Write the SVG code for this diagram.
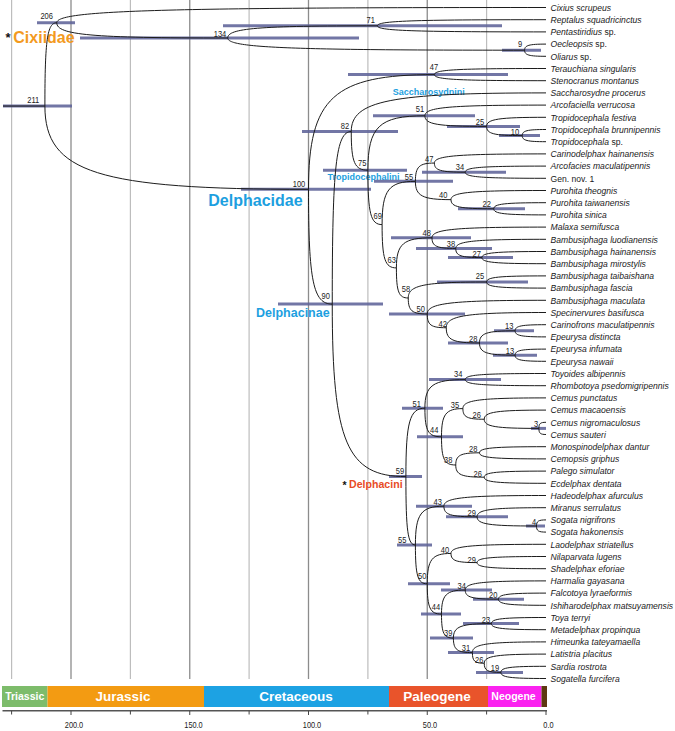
<svg xmlns="http://www.w3.org/2000/svg" width="675" height="731" viewBox="0 0 675 731">
<style>
.br{fill:none;stroke:#1c1c1c;stroke-width:1}
.hpd{stroke:#5f6399;stroke-width:3;stroke-opacity:0.88}
.nl{font-family:"Liberation Sans",Arial,sans-serif;font-size:9.2px;fill:#222;text-anchor:middle}
.tl{font-family:"Liberation Sans",Arial,sans-serif;font-size:9.3px;font-style:italic;fill:#1a1a1a}
.rm{font-style:normal}
.g1{stroke:#8c8c8c;stroke-width:1.3}
.g2{stroke:#bdbdbd;stroke-width:1.2}
.cl{font-family:"Liberation Sans",Arial,sans-serif;font-weight:bold}
.era{font-family:"Liberation Sans",Arial,sans-serif;font-weight:bold;fill:#fff;text-anchor:middle}
.ax{font-family:"Liberation Sans",Arial,sans-serif;font-size:9px;fill:#222;text-anchor:middle}
.tk{stroke:#444;stroke-width:1}
</style>
<rect width="675" height="731" fill="#fff"/>
<g id="grid">
<line class="g2" x1="11.6" y1="0" x2="11.6" y2="679"/>
<line class="g1" x1="71" y1="0" x2="71" y2="679"/>
<line class="g2" x1="130.4" y1="0" x2="130.4" y2="679"/>
<line class="g1" x1="189.75" y1="0" x2="189.75" y2="679"/>
<line class="g2" x1="249.1" y1="0" x2="249.1" y2="679"/>
<line class="g1" x1="308.5" y1="0" x2="308.5" y2="679"/>
<line class="g2" x1="367.9" y1="0" x2="367.9" y2="679"/>
<line class="g1" x1="427.25" y1="0" x2="427.25" y2="679"/>
<line class="g2" x1="486.6" y1="0" x2="486.6" y2="679"/>
</g>
<g id="clade-labels">
<text class="cl" x="5.5" y="42" font-size="13" fill="#111">*</text>
<text class="cl" x="13.3" y="42.7" font-size="16" fill="#f39a1e">Cixiidae</text>
<text class="cl" x="208.3" y="205.5" font-size="16" fill="#1d9fe0">Delphacidae</text>
<text class="cl" x="256" y="316.7" font-size="12.5" fill="#1d9fe0">Delphacinae</text>
<text class="cl" x="327.5" y="180" font-size="9" fill="#1d9fe0">Tropidocephalini</text>
<text class="cl" x="392.7" y="94.5" font-size="9" fill="#1d9fe0">Saccharosydnini</text>
<text class="cl" x="342.5" y="489" font-size="10.5" fill="#111">*</text>
<text class="cl" x="349" y="488" font-size="10.6" fill="#e84b26">Delphacini</text>
</g>
<g id="nodes">
<g id="node-211"><line class="hpd" x1="3" y1="106.05" x2="72" y2="106.05"/><text class="nl" transform="translate(33.3 103.3) scale(0.82 1)">211</text></g>
<g id="node-206"><line class="hpd" x1="37" y1="22.75" x2="75" y2="22.75"/><text class="nl" transform="translate(46.7 19.3) scale(0.82 1)">206</text></g>
<g id="node-134"><line class="hpd" x1="80" y1="38" x2="359" y2="38"/><text class="nl" transform="translate(220 36.6) scale(0.82 1)">134</text></g>
<g id="node-71"><line class="hpd" x1="223" y1="25.8" x2="502" y2="25.8"/><text class="nl" transform="translate(370.7 23.3) scale(0.82 1)">71</text></g>
<g id="node-9"><line class="hpd" x1="502" y1="50.2" x2="541" y2="50.2"/><text class="nl" transform="translate(520 47.3) scale(0.82 1)">9</text></g>
<g id="node-100"><line class="hpd" x1="241" y1="189.35" x2="371" y2="189.35"/><text class="nl" transform="translate(299 187.3) scale(0.82 1)">100</text></g>
<g id="node-47-stenocranus"><line class="hpd" x1="348" y1="74.6" x2="508" y2="74.6"/><text class="nl" transform="translate(434 70) scale(0.82 1)">47</text></g>
<g id="node-90"><line class="hpd" x1="278" y1="304.1" x2="383" y2="304.1"/><text class="nl" transform="translate(325.7 299) scale(0.82 1)">90</text></g>
<g id="node-82"><line class="hpd" x1="302" y1="131.55" x2="398" y2="131.55"/><text class="nl" transform="translate(345 128.8) scale(0.82 1)">82</text></g>
<g id="node-75"><line class="hpd" x1="323" y1="170.2" x2="407" y2="170.2"/><text class="nl" transform="translate(362.3 165.6) scale(0.82 1)">75</text></g>
<g id="node-51-tropidocephala"><line class="hpd" x1="373" y1="115.8" x2="475" y2="115.8"/><text class="nl" transform="translate(420 111.6) scale(0.82 1)">51</text></g>
<g id="node-25-tropidocephala"><line class="hpd" x1="447" y1="126.4" x2="520" y2="126.4"/><text class="nl" transform="translate(480 125.3) scale(0.82 1)">25</text></g>
<g id="node-10"><line class="hpd" x1="499" y1="135.6" x2="540" y2="135.6"/><text class="nl" transform="translate(515 135) scale(0.82 1)">10</text></g>
<g id="node-69"><text class="nl" transform="translate(377.7 219.3) scale(0.82 1)">69</text></g>
<g id="node-55-tropidocephalini"><line class="hpd" x1="374" y1="181.35" x2="453" y2="181.35"/><text class="nl" transform="translate(409 180) scale(0.82 1)">55</text></g>
<g id="node-47-carinodelphax"><text class="nl" transform="translate(429.3 161.6) scale(0.82 1)">47</text></g>
<g id="node-34-arcofacies"><line class="hpd" x1="422" y1="172.2" x2="506" y2="172.2"/><text class="nl" transform="translate(460 170) scale(0.82 1)">34</text></g>
<g id="node-40-purohita"><text class="nl" transform="translate(443.3 198.3) scale(0.82 1)">40</text></g>
<g id="node-22"><line class="hpd" x1="458" y1="208.8" x2="525" y2="208.8"/><text class="nl" transform="translate(486.7 206.6) scale(0.82 1)">22</text></g>
<g id="node-63"><text class="nl" transform="translate(391.7 263.3) scale(0.82 1)">63</text></g>
<g id="node-48"><line class="hpd" x1="391" y1="237.8" x2="471" y2="237.8"/><text class="nl" transform="translate(426.7 235.6) scale(0.82 1)">48</text></g>
<g id="node-38-bambusiphaga"><line class="hpd" x1="416" y1="248.45" x2="492" y2="248.45"/><text class="nl" transform="translate(451 247.3) scale(0.82 1)">38</text></g>
<g id="node-27"><line class="hpd" x1="448" y1="257.6" x2="513" y2="257.6"/><text class="nl" transform="translate(476.7 256.6) scale(0.82 1)">27</text></g>
<g id="node-58"><text class="nl" transform="translate(406 291.6) scale(0.82 1)">58</text></g>
<g id="node-25-bambusiphaga"><line class="hpd" x1="437" y1="282" x2="528" y2="282"/><text class="nl" transform="translate(480 279.3) scale(0.82 1)">25</text></g>
<g id="node-50-specinervures"><line class="hpd" x1="389" y1="314" x2="465" y2="314"/><text class="nl" transform="translate(420.7 311.6) scale(0.82 1)">50</text></g>
<g id="node-42"><text class="nl" transform="translate(442.7 326.6) scale(0.82 1)">42</text></g>
<g id="node-28-epeurysa"><line class="hpd" x1="448" y1="343" x2="508" y2="343"/><text class="nl" transform="translate(473.3 341.6) scale(0.82 1)">28</text></g>
<g id="node-13-carinofrons"><line class="hpd" x1="494" y1="330.8" x2="534" y2="330.8"/><text class="nl" transform="translate(509.3 329.3) scale(0.82 1)">13</text></g>
<g id="node-13-epeurysa"><line class="hpd" x1="493" y1="355.2" x2="537" y2="355.2"/><text class="nl" transform="translate(510 354) scale(0.82 1)">13</text></g>
<g id="node-59"><line class="hpd" x1="389" y1="476.6" x2="422" y2="476.6"/><text class="nl" transform="translate(400 474.3) scale(0.82 1)">59</text></g>
<g id="node-51-delphacini"><line class="hpd" x1="402" y1="408.2" x2="443" y2="408.2"/><text class="nl" transform="translate(416.7 406.6) scale(0.82 1)">51</text></g>
<g id="node-34-toyoides"><line class="hpd" x1="429" y1="379.6" x2="501" y2="379.6"/><text class="nl" transform="translate(458.3 377.3) scale(0.82 1)">34</text></g>
<g id="node-44-cemus"><line class="hpd" x1="417" y1="436.8" x2="463" y2="436.8"/><text class="nl" transform="translate(434.3 433.3) scale(0.82 1)">44</text></g>
<g id="node-35"><text class="nl" transform="translate(455 408.3) scale(0.82 1)">35</text></g>
<g id="node-26-cemus"><text class="nl" transform="translate(476.7 418.3) scale(0.82 1)">26</text></g>
<g id="node-3"><line class="hpd" x1="531" y1="428.4" x2="546" y2="428.4"/><text class="nl" transform="translate(536 426.6) scale(0.82 1)">3</text></g>
<g id="node-38-cemopsis"><text class="nl" transform="translate(448.3 462.6) scale(0.82 1)">38</text></g>
<g id="node-28-cemopsis"><text class="nl" transform="translate(473.3 451.6) scale(0.82 1)">28</text></g>
<g id="node-26-palego"><text class="nl" transform="translate(477.7 476.6) scale(0.82 1)">26</text></g>
<g id="node-55-delphacini"><line class="hpd" x1="397" y1="545" x2="432" y2="545"/><text class="nl" transform="translate(402.3 543.3) scale(0.82 1)">55</text></g>
<g id="node-43"><line class="hpd" x1="416" y1="506.2" x2="472" y2="506.2"/><text class="nl" transform="translate(437.7 505) scale(0.82 1)">43</text></g>
<g id="node-29-miranus"><line class="hpd" x1="446" y1="516.85" x2="508" y2="516.85"/><text class="nl" transform="translate(471.7 515.6) scale(0.82 1)">29</text></g>
<g id="node-4"><line class="hpd" x1="526" y1="526" x2="545" y2="526"/><text class="nl" transform="translate(534 525) scale(0.82 1)">4</text></g>
<g id="node-50-delphacini"><line class="hpd" x1="408" y1="583.8" x2="450" y2="583.8"/><text class="nl" transform="translate(422.3 579.3) scale(0.82 1)">50</text></g>
<g id="node-40-laodelphax"><text class="nl" transform="translate(445 552.6) scale(0.82 1)">40</text></g>
<g id="node-29-nilaparvata"><text class="nl" transform="translate(471.7 562.6) scale(0.82 1)">29</text></g>
<g id="node-44-harmalia"><line class="hpd" x1="421" y1="614.1" x2="461" y2="614.1"/><text class="nl" transform="translate(436 610) scale(0.82 1)">44</text></g>
<g id="node-34-harmalia"><line class="hpd" x1="441" y1="590.05" x2="492" y2="590.05"/><text class="nl" transform="translate(461.7 589.3) scale(0.82 1)">34</text></g>
<g id="node-20"><line class="hpd" x1="473" y1="599.2" x2="524" y2="599.2"/><text class="nl" transform="translate(493.3 598.3) scale(0.82 1)">20</text></g>
<g id="node-39"><line class="hpd" x1="430" y1="638.1" x2="473" y2="638.1"/><text class="nl" transform="translate(448.3 636) scale(0.82 1)">39</text></g>
<g id="node-23"><line class="hpd" x1="463" y1="623.6" x2="519" y2="623.6"/><text class="nl" transform="translate(486 622.6) scale(0.82 1)">23</text></g>
<g id="node-31"><line class="hpd" x1="448" y1="652.6" x2="494" y2="652.6"/><text class="nl" transform="translate(466 650.6) scale(0.82 1)">31</text></g>
<g id="node-26-latistria"><text class="nl" transform="translate(479.3 662.6) scale(0.82 1)">26</text></g>
<g id="node-19"><line class="hpd" x1="476" y1="672.4" x2="523" y2="672.4"/><text class="nl" transform="translate(495 670.6) scale(0.82 1)">19</text></g>
</g>
<g id="branches">
<path class="br" d="M3 106.05H44.9"/>
<path class="br" d="M44.9 106.05C44.9 39.4 47.3 22.75 56.75 22.75"/>
<path class="br" d="M44.9 106.05C44.9 172.7 97.6 189.35 308.5 189.35"/>
<path class="br" d="M56.75 22.75C56.75 10.55 154.6 7.5 546 7.5"/>
<path class="br" d="M56.75 22.75C56.75 34.95 90.95 38 227.75 38"/>
<path class="br" d="M227.75 38C227.75 28.24 257.68 25.8 377.4 25.8"/>
<path class="br" d="M227.75 38C227.75 47.76 287.12 50.2 524.6 50.2"/>
<path class="br" d="M377.4 25.8C377.4 20.92 411.12 19.7 546 19.7"/>
<path class="br" d="M377.4 25.8C377.4 30.68 411.12 31.9 546 31.9"/>
<path class="br" d="M524.6 50.2C524.6 45.32 528.88 44.1 546 44.1"/>
<path class="br" d="M524.6 50.2C524.6 55.08 528.88 56.3 546 56.3"/>
<path class="br" d="M308.5 189.35C308.5 97.55 333.68 74.6 434.4 74.6"/>
<path class="br" d="M308.5 189.35C308.5 281.15 313.25 304.1 332.25 304.1"/>
<path class="br" d="M434.4 74.6C434.4 69.72 456.72 68.5 546 68.5"/>
<path class="br" d="M434.4 74.6C434.4 79.48 456.72 80.7 546 80.7"/>
<path class="br" d="M332.25 304.1C332.25 166.06 336.05 131.55 351.25 131.55"/>
<path class="br" d="M332.25 304.1C332.25 442.1 346.98 476.6 405.9 476.6"/>
<path class="br" d="M351.25 131.55C351.25 100.63 390.2 92.9 546 92.9"/>
<path class="br" d="M351.25 131.55C351.25 162.47 354.58 170.2 367.9 170.2"/>
<path class="br" d="M367.9 170.2C367.9 126.68 379.3 115.8 424.9 115.8"/>
<path class="br" d="M367.9 170.2C367.9 213.72 370.74 224.6 382.1 224.6"/>
<path class="br" d="M424.9 115.8C424.9 107.24 449.12 105.1 546 105.1"/>
<path class="br" d="M424.9 115.8C424.9 124.28 437.24 126.4 486.6 126.4"/>
<path class="br" d="M486.6 126.4C486.6 119.12 498.48 117.3 546 117.3"/>
<path class="br" d="M486.6 126.4C486.6 133.76 493.73 135.6 522.25 135.6"/>
<path class="br" d="M522.25 135.6C522.25 130.72 527 129.5 546 129.5"/>
<path class="br" d="M522.25 135.6C522.25 140.48 527 141.7 546 141.7"/>
<path class="br" d="M382.1 224.6C382.1 190 388.76 181.35 415.4 181.35"/>
<path class="br" d="M382.1 224.6C382.1 259.24 384.96 267.9 396.4 267.9"/>
<path class="br" d="M415.4 181.35C415.4 166.71 419.2 163.05 434.4 163.05"/>
<path class="br" d="M415.4 181.35C415.4 195.99 422.52 199.65 451 199.65"/>
<path class="br" d="M434.4 163.05C434.4 155.73 456.72 153.9 546 153.9"/>
<path class="br" d="M434.4 163.05C434.4 170.37 440.57 172.2 465.25 172.2"/>
<path class="br" d="M465.25 172.2C465.25 167.32 481.4 166.1 546 166.1"/>
<path class="br" d="M465.25 172.2C465.25 177.08 481.4 178.3 546 178.3"/>
<path class="br" d="M451 199.65C451 192.33 470 190.5 546 190.5"/>
<path class="br" d="M451 199.65C451 206.97 459.55 208.8 493.75 208.8"/>
<path class="br" d="M493.75 208.8C493.75 203.92 504.2 202.7 546 202.7"/>
<path class="br" d="M493.75 208.8C493.75 213.68 504.2 214.9 546 214.9"/>
<path class="br" d="M396.4 267.9C396.4 243.82 403.52 237.8 432 237.8"/>
<path class="br" d="M396.4 267.9C396.4 291.98 398.77 298 408.25 298"/>
<path class="br" d="M432 237.8C432 229.24 454.8 227.1 546 227.1"/>
<path class="br" d="M432 237.8C432 246.32 436.75 248.45 455.75 248.45"/>
<path class="br" d="M455.75 248.45C455.75 241.13 473.8 239.3 546 239.3"/>
<path class="br" d="M455.75 248.45C455.75 255.77 460.98 257.6 481.9 257.6"/>
<path class="br" d="M481.9 257.6C481.9 252.72 494.72 251.5 546 251.5"/>
<path class="br" d="M481.9 257.6C481.9 262.48 494.72 263.7 546 263.7"/>
<path class="br" d="M408.25 298C408.25 285.2 423.92 282 486.6 282"/>
<path class="br" d="M408.25 298C408.25 310.8 412.05 314 427.25 314"/>
<path class="br" d="M486.6 282C486.6 277.12 498.48 275.9 546 275.9"/>
<path class="br" d="M486.6 282C486.6 286.88 498.48 288.1 546 288.1"/>
<path class="br" d="M427.25 314C427.25 303.04 451 300.3 546 300.3"/>
<path class="br" d="M427.25 314C427.25 325 431.05 327.75 446.25 327.75"/>
<path class="br" d="M446.25 327.75C446.25 315.55 466.2 312.5 546 312.5"/>
<path class="br" d="M446.25 327.75C446.25 339.95 452.9 343 479.5 343"/>
<path class="br" d="M479.5 343C479.5 333.24 486.62 330.8 515.1 330.8"/>
<path class="br" d="M479.5 343C479.5 352.76 486.62 355.2 515.1 355.2"/>
<path class="br" d="M515.1 330.8C515.1 325.92 521.28 324.7 546 324.7"/>
<path class="br" d="M515.1 330.8C515.1 335.68 521.28 336.9 546 336.9"/>
<path class="br" d="M515.1 355.2C515.1 350.32 521.28 349.1 546 349.1"/>
<path class="br" d="M515.1 355.2C515.1 360.08 521.28 361.3 546 361.3"/>
<path class="br" d="M405.9 476.6C405.9 421.88 409.7 408.2 424.9 408.2"/>
<path class="br" d="M405.9 476.6C405.9 531.32 407.8 545 415.4 545"/>
<path class="br" d="M424.9 408.2C424.9 385.32 432.97 379.6 465.25 379.6"/>
<path class="br" d="M424.9 408.2C424.9 431.08 428.22 436.8 441.5 436.8"/>
<path class="br" d="M465.25 379.6C465.25 374.72 481.4 373.5 546 373.5"/>
<path class="br" d="M465.25 379.6C465.25 384.48 481.4 385.7 546 385.7"/>
<path class="br" d="M441.5 436.8C441.5 414.24 445.78 408.6 462.9 408.6"/>
<path class="br" d="M441.5 436.8C441.5 459.36 444.35 465 455.75 465"/>
<path class="br" d="M462.9 408.6C462.9 400.04 479.52 397.9 546 397.9"/>
<path class="br" d="M462.9 408.6C462.9 417.12 467.17 419.25 484.25 419.25"/>
<path class="br" d="M484.25 419.25C484.25 411.93 496.6 410.1 546 410.1"/>
<path class="br" d="M484.25 419.25C484.25 426.57 495.18 428.4 538.9 428.4"/>
<path class="br" d="M538.9 428.4C538.9 423.52 540.32 422.3 546 422.3"/>
<path class="br" d="M538.9 428.4C538.9 433.28 540.32 434.5 546 434.5"/>
<path class="br" d="M455.75 465C455.75 455.24 460.5 452.8 479.5 452.8"/>
<path class="br" d="M455.75 465C455.75 474.76 461.45 477.2 484.25 477.2"/>
<path class="br" d="M479.5 452.8C479.5 447.92 492.8 446.7 546 446.7"/>
<path class="br" d="M479.5 452.8C479.5 457.68 492.8 458.9 546 458.9"/>
<path class="br" d="M484.25 477.2C484.25 472.32 496.6 471.1 546 471.1"/>
<path class="br" d="M484.25 477.2C484.25 482.08 496.6 483.3 546 483.3"/>
<path class="br" d="M415.4 545C415.4 513.96 421.1 506.2 443.9 506.2"/>
<path class="br" d="M415.4 545C415.4 576.04 417.77 583.8 427.25 583.8"/>
<path class="br" d="M443.9 506.2C443.9 497.64 464.32 495.5 546 495.5"/>
<path class="br" d="M443.9 506.2C443.9 514.72 450.54 516.85 477.1 516.85"/>
<path class="br" d="M477.1 516.85C477.1 509.53 490.88 507.7 546 507.7"/>
<path class="br" d="M477.1 516.85C477.1 524.17 488.98 526 536.5 526"/>
<path class="br" d="M536.5 526C536.5 521.12 538.4 519.9 546 519.9"/>
<path class="br" d="M536.5 526C536.5 530.88 538.4 532.1 546 532.1"/>
<path class="br" d="M427.25 583.8C427.25 559.52 432 553.45 451 553.45"/>
<path class="br" d="M427.25 583.8C427.25 608.04 430.1 614.1 441.5 614.1"/>
<path class="br" d="M451 553.45C451 546.13 470 544.3 546 544.3"/>
<path class="br" d="M451 553.45C451 560.77 456.22 562.6 477.1 562.6"/>
<path class="br" d="M477.1 562.6C477.1 557.72 490.88 556.5 546 556.5"/>
<path class="br" d="M477.1 562.6C477.1 567.48 490.88 568.7 546 568.7"/>
<path class="br" d="M441.5 614.1C441.5 594.86 446.25 590.05 465.25 590.05"/>
<path class="br" d="M441.5 614.1C441.5 633.3 443.88 638.1 453.4 638.1"/>
<path class="br" d="M465.25 590.05C465.25 582.73 481.4 580.9 546 580.9"/>
<path class="br" d="M465.25 590.05C465.25 597.37 471.9 599.2 498.5 599.2"/>
<path class="br" d="M498.5 599.2C498.5 594.32 508 593.1 546 593.1"/>
<path class="br" d="M498.5 599.2C498.5 604.08 508 605.3 546 605.3"/>
<path class="br" d="M453.4 638.1C453.4 626.5 461 623.6 491.4 623.6"/>
<path class="br" d="M453.4 638.1C453.4 649.7 457.2 652.6 472.4 652.6"/>
<path class="br" d="M491.4 623.6C491.4 618.72 502.32 617.5 546 617.5"/>
<path class="br" d="M491.4 623.6C491.4 628.48 502.32 629.7 546 629.7"/>
<path class="br" d="M472.4 652.6C472.4 644.04 487.12 641.9 546 641.9"/>
<path class="br" d="M472.4 652.6C472.4 661.12 474.77 663.25 484.25 663.25"/>
<path class="br" d="M484.25 663.25C484.25 655.93 496.6 654.1 546 654.1"/>
<path class="br" d="M484.25 663.25C484.25 670.57 487.58 672.4 500.9 672.4"/>
<path class="br" d="M500.9 672.4C500.9 667.52 509.92 666.3 546 666.3"/>
<path class="br" d="M500.9 672.4C500.9 677.28 509.92 678.5 546 678.5"/>
</g>
<g id="tips">
<g id="tip-01" transform="translate(550.5 10.8) scale(0.925 1)"><text class="tl">Cixius scrupeus</text></g>
<g id="tip-02" transform="translate(550.5 23) scale(0.925 1)"><text class="tl">Reptalus squadricinctus</text></g>
<g id="tip-03" transform="translate(550.5 35.2) scale(0.925 1)"><text class="tl">Pentastiridius<tspan class="rm"> sp.</tspan></text></g>
<g id="tip-04" transform="translate(550.5 47.4) scale(0.925 1)"><text class="tl">Oecleopsis<tspan class="rm"> sp.</tspan></text></g>
<g id="tip-05" transform="translate(550.5 59.6) scale(0.925 1)"><text class="tl">Oliarus<tspan class="rm"> sp.</tspan></text></g>
<g id="tip-06" transform="translate(550.5 71.8) scale(0.925 1)"><text class="tl">Terauchiana singularis</text></g>
<g id="tip-07" transform="translate(550.5 84) scale(0.925 1)"><text class="tl">Stenocranus montanus</text></g>
<g id="tip-08" transform="translate(550.5 96.2) scale(0.925 1)"><text class="tl">Saccharosydne procerus</text></g>
<g id="tip-09" transform="translate(550.5 108.4) scale(0.925 1)"><text class="tl">Arcofaciella verrucosa</text></g>
<g id="tip-10" transform="translate(550.5 120.6) scale(0.925 1)"><text class="tl">Tropidocephala festiva</text></g>
<g id="tip-11" transform="translate(550.5 132.8) scale(0.925 1)"><text class="tl">Tropidocephala brunnipennis</text></g>
<g id="tip-12" transform="translate(550.5 145) scale(0.925 1)"><text class="tl">Tropidocephala<tspan class="rm"> sp.</tspan></text></g>
<g id="tip-13" transform="translate(550.5 157.2) scale(0.925 1)"><text class="tl">Carinodelphax hainanensis</text></g>
<g id="tip-14" transform="translate(550.5 169.4) scale(0.925 1)"><text class="tl">Arcofacies maculatipennis</text></g>
<g id="tip-15" transform="translate(550.5 181.6) scale(0.925 1)"><text class="tl rm">Gen. nov. 1</text></g>
<g id="tip-16" transform="translate(550.5 193.8) scale(0.925 1)"><text class="tl">Purohita theognis</text></g>
<g id="tip-17" transform="translate(550.5 206) scale(0.925 1)"><text class="tl">Purohita taiwanensis</text></g>
<g id="tip-18" transform="translate(550.5 218.2) scale(0.925 1)"><text class="tl">Purohita sinica</text></g>
<g id="tip-19" transform="translate(550.5 230.4) scale(0.925 1)"><text class="tl">Malaxa semifusca</text></g>
<g id="tip-20" transform="translate(550.5 242.6) scale(0.925 1)"><text class="tl">Bambusiphaga luodianensis</text></g>
<g id="tip-21" transform="translate(550.5 254.8) scale(0.925 1)"><text class="tl">Bambusiphaga hainanensis</text></g>
<g id="tip-22" transform="translate(550.5 267) scale(0.925 1)"><text class="tl">Bambusiphaga mirostylis</text></g>
<g id="tip-23" transform="translate(550.5 279.2) scale(0.925 1)"><text class="tl">Bambusiphaga taibaishana</text></g>
<g id="tip-24" transform="translate(550.5 291.4) scale(0.925 1)"><text class="tl">Bambusiphaga fascia</text></g>
<g id="tip-25" transform="translate(550.5 303.6) scale(0.925 1)"><text class="tl">Bambusiphaga maculata</text></g>
<g id="tip-26" transform="translate(550.5 315.8) scale(0.925 1)"><text class="tl">Specinervures basifusca</text></g>
<g id="tip-27" transform="translate(550.5 328) scale(0.925 1)"><text class="tl">Carinofrons maculatipennis</text></g>
<g id="tip-28" transform="translate(550.5 340.2) scale(0.925 1)"><text class="tl">Epeurysa distincta</text></g>
<g id="tip-29" transform="translate(550.5 352.4) scale(0.925 1)"><text class="tl">Epeurysa infumata</text></g>
<g id="tip-30" transform="translate(550.5 364.6) scale(0.925 1)"><text class="tl">Epeurysa nawaii</text></g>
<g id="tip-31" transform="translate(550.5 376.8) scale(0.925 1)"><text class="tl">Toyoides albipennis</text></g>
<g id="tip-32" transform="translate(550.5 389) scale(0.925 1)"><text class="tl">Rhombotoya psedomigripennis</text></g>
<g id="tip-33" transform="translate(550.5 401.2) scale(0.925 1)"><text class="tl">Cemus punctatus</text></g>
<g id="tip-34" transform="translate(550.5 413.4) scale(0.925 1)"><text class="tl">Cemus macaoensis</text></g>
<g id="tip-35" transform="translate(550.5 425.6) scale(0.925 1)"><text class="tl">Cemus nigromaculosus</text></g>
<g id="tip-36" transform="translate(550.5 437.8) scale(0.925 1)"><text class="tl">Cemus sauteri</text></g>
<g id="tip-37" transform="translate(550.5 450) scale(0.925 1)"><text class="tl">Monospinodelphax dantur</text></g>
<g id="tip-38" transform="translate(550.5 462.2) scale(0.925 1)"><text class="tl">Cemopsis griphus</text></g>
<g id="tip-39" transform="translate(550.5 474.4) scale(0.925 1)"><text class="tl">Palego simulator</text></g>
<g id="tip-40" transform="translate(550.5 486.6) scale(0.925 1)"><text class="tl">Ecdelphax dentata</text></g>
<g id="tip-41" transform="translate(550.5 498.8) scale(0.925 1)"><text class="tl">Hadeodelphax afurculus</text></g>
<g id="tip-42" transform="translate(550.5 511) scale(0.925 1)"><text class="tl">Miranus serrulatus</text></g>
<g id="tip-43" transform="translate(550.5 523.2) scale(0.925 1)"><text class="tl">Sogata nigrifrons</text></g>
<g id="tip-44" transform="translate(550.5 535.4) scale(0.925 1)"><text class="tl">Sogata hakonensis</text></g>
<g id="tip-45" transform="translate(550.5 547.6) scale(0.925 1)"><text class="tl">Laodelphax striatellus</text></g>
<g id="tip-46" transform="translate(550.5 559.8) scale(0.925 1)"><text class="tl">Nilaparvata lugens</text></g>
<g id="tip-47" transform="translate(550.5 572) scale(0.925 1)"><text class="tl">Shadelphax eforiae</text></g>
<g id="tip-48" transform="translate(550.5 584.2) scale(0.925 1)"><text class="tl">Harmalia gayasana</text></g>
<g id="tip-49" transform="translate(550.5 596.4) scale(0.925 1)"><text class="tl">Falcotoya lyraeformis</text></g>
<g id="tip-50" transform="translate(550.5 608.6) scale(0.925 1)"><text class="tl">Ishiharodelphax matsuyamensis</text></g>
<g id="tip-51" transform="translate(550.5 620.8) scale(0.925 1)"><text class="tl">Toya terryi</text></g>
<g id="tip-52" transform="translate(550.5 633) scale(0.925 1)"><text class="tl">Metadelphax propinqua</text></g>
<g id="tip-53" transform="translate(550.5 645.2) scale(0.925 1)"><text class="tl">Himeunka tateyamaella</text></g>
<g id="tip-54" transform="translate(550.5 657.4) scale(0.925 1)"><text class="tl">Latistria placitus</text></g>
<g id="tip-55" transform="translate(550.5 669.6) scale(0.925 1)"><text class="tl">Sardia rostrota</text></g>
<g id="tip-56" transform="translate(550.5 681.8) scale(0.925 1)"><text class="tl">Sogatella furcifera</text></g>
</g>
<g id="timescale">
<rect x="2" y="686" width="45.5" height="21" fill="#7dbc6b"/>
<rect x="47.5" y="686" width="156.5" height="21" fill="#f39b12"/>
<rect x="204" y="686" width="185" height="21" fill="#1da2e3"/>
<rect x="389" y="686" width="99" height="21" fill="#e9542b"/>
<rect x="488" y="686" width="53.5" height="21" fill="#fb22f0"/>
<rect x="541.5" y="686" width="5.5" height="21" fill="#5e3811"/>
<text class="era" x="24.7" y="700.3" font-size="10.5">Triassic</text>
<text class="era" x="123" y="701.3" font-size="13.5">Jurassic</text>
<text class="era" x="296" y="701.3" font-size="13.5">Cretaceous</text>
<text class="era" x="437" y="701.3" font-size="13.5">Paleogene</text>
<text class="era" x="513.5" y="700.3" font-size="10.5">Neogene</text>
</g>
<g id="axis">
<line x1="2.5" y1="710.8" x2="547" y2="710.8" stroke="#555" stroke-width="1.5"/>
<line class="tk" x1="11.6" y1="710.8" x2="11.6" y2="714.5"/>
<line class="tk" x1="71" y1="710.8" x2="71" y2="715"/>
<line class="tk" x1="130.4" y1="710.8" x2="130.4" y2="714.5"/>
<line class="tk" x1="189.75" y1="710.8" x2="189.75" y2="715"/>
<line class="tk" x1="249.1" y1="710.8" x2="249.1" y2="714.5"/>
<line class="tk" x1="308.5" y1="710.8" x2="308.5" y2="715"/>
<line class="tk" x1="367.9" y1="710.8" x2="367.9" y2="714.5"/>
<line class="tk" x1="427.25" y1="710.8" x2="427.25" y2="715"/>
<line class="tk" x1="486.6" y1="710.8" x2="486.6" y2="714.5"/>
<line class="tk" x1="546" y1="710.8" x2="546" y2="715"/>
<text class="ax" transform="translate(74 728) scale(0.82 1)">200.0</text>
<text class="ax" transform="translate(193.5 728) scale(0.82 1)">150.0</text>
<text class="ax" transform="translate(312 728) scale(0.82 1)">100.0</text>
<text class="ax" transform="translate(430 728) scale(0.82 1)">50.0</text>
<text class="ax" transform="translate(548.5 728) scale(0.82 1)">0.0</text>
</g>
</svg>
